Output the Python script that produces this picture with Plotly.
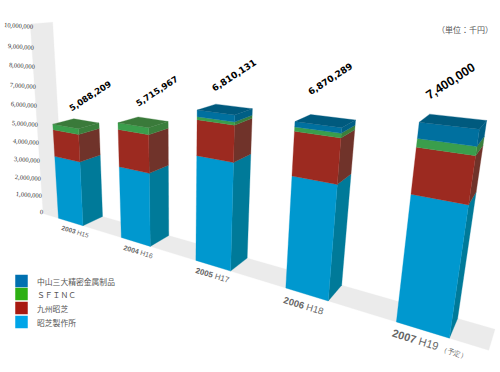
import numpy as np
import plotly.graph_objects as go

years = ["2003", "2004", "2005", "2006", "2007"]
eras = ["H15", "H16", "H17", "H18", "H19"]
total_labels = ["5,088,209", "5,715,967", "6,810,131", "6,870,289", "7,400,000"]
tohshiba = [3400000, 3600000, 4850000, 4750000, 4900000]
kyushu = [1400000, 1800000, 1550000, 1750000, 1650000]
sfinc = [288209, 315967, 130000, 170000, 300000]
nakayama = [0, 0, 280131, 200289, 550000]
axis_ticks = [0, 1000000, 2000000, 3000000, 4000000, 5000000,
              6000000, 7000000, 8000000, 9000000, 10000000]
series_names = ["昭芝製作所", "九州昭芝", "ＳＦＩＮＣ", "中山三大精密金属制品"]

# camera of the pseudo-3D picture: world (slot, depth, value in millions) -> pixels
CAM = np.array([[53.30543, 22.86719, -1.57939, 58.45004],
                [0.60667, -0.6557, -19.57681, 218.2364],
                [-0.07864, 0.03818, -0.00882, 1.0]])
BAR_W = 0.41
WALL_X = -0.27
FLOOR_END = 4.69


def pr(x, d, v):
    h = CAM @ np.array([x, d, v / 1e6, 1.0])
    return h[0] / h[2], h[1] / h[2]


fig = go.Figure()


def poly(points, color):
    pts = [pr(*p) for p in points]
    pts.append(pts[0])
    fig.add_trace(go.Scatter(x=[p[0] for p in pts], y=[p[1] for p in pts], mode="lines",
                             fill="toself", fillcolor=color, line=dict(color=color, width=0.3),
                             hoverinfo="skip", showlegend=False))


WALL = "#ebebeb"
top_val = axis_ticks[-1]
poly([(WALL_X, 0, 0), (WALL_X, 1, 0), (WALL_X, 1, top_val), (WALL_X, 0, top_val)], WALL)
poly([(WALL_X, 0, 0), (FLOOR_END, 0, 0), (FLOOR_END, 1, 0), (WALL_X, 1, 0)], WALL)

styles = [("#0098cf", "#007a99", "#007a99"),
          ("#9c2a20", "#70332a", "#70332a"),
          ("#3a9e4c", "#3a7f3c", "#3a7a3a"),
          ("#00709f", "#005f85", "#005a7e")]
stacks = [tohshiba, kyushu, sfinc, nakayama]

for i in range(len(years)):
    base = 0
    x0, x1 = i, i + BAR_W
    for stack, (front, side, top) in zip(stacks, styles):
        v = stack[i]
        if v <= 0:
            continue
        tip = base + v
        poly([(x1, 0, base), (x1, 1, base), (x1, 1, tip), (x1, 0, tip)], side)
        poly([(x0, 0, base), (x1, 0, base), (x1, 0, tip), (x0, 0, tip)], front)
        base = tip
        last_top = top
    poly([(x0, 0, base), (x1, 0, base), (x1, 1, base), (x0, 1, base)], last_top)

ann = []


def text(x, y, s, size, color="#444444", family="Liberation Sans", angle=0, anchor="center"):
    ann.append(dict(x=x, y=y, xref="x", yref="y", text=s, showarrow=False, textangle=angle,
                    xanchor=anchor, yanchor="middle", borderpad=0,
                    font=dict(size=size, color=color, family=family)))


for t in axis_ticks:
    px, py = pr(WALL_X, 0, t)
    z = t / 1e6
    text(px + 1 + 0.3 * z, py - 2 + 0.4 * z, f"{t:,}", 6.5, "#333333",
         "Liberation Sans Narrow", 4, "right")

tot_dx = [14, 14, 10, 5, -2]
tot_dy = [-28, -31, -34, -42, -40]
tot_size = [8.5, 8.5, 9, 9, 12.5]
tot_font = ["DejaVu Sans", "DejaVu Sans", "DejaVu Sans", "DejaVu Sans", "Liberation Sans"]
cat_dx = [5, 2, 0, -3, 8]
cat_dy = [10, 10, 10, 11, 14]
cat_size = [6.5, 7, 8, 9.5, 11]
for i, lab in enumerate(total_labels):
    tip = tohshiba[i] + kyushu[i] + sfinc[i] + nakayama[i]
    px, py = pr(i + BAR_W / 2, 0.5, tip)
    text(px + tot_dx[i], py + tot_dy[i], f"<b>{lab}</b>", tot_size[i], "#000000", tot_font[i], -33)
    px, py = pr(i + BAR_W / 2, 0, 0)
    s = f"<b>{years[i]}</b> {eras[i]}"
    if i == 4:
        s += ' <span style="font-size:7px">（予定）</span>'
    text(px + cat_dx[i], py + cat_dy[i], s, cat_size[i], "#666666", "Liberation Sans", 17)

text(465, 29, "（単位：千円）", 8, "#555555", "Noto Sans CJK JP")

legend_colors = ["#00a5e8", "#a81a10", "#2db013", "#0070b0"]
legend_y = [322, 308, 294, 281]
fig.add_trace(go.Scatter(x=[21.5] * 4, y=legend_y, mode="markers",
                         marker=dict(symbol="square", size=12.5, color=legend_colors),
                         hoverinfo="skip", showlegend=False))
for name, ly in zip(series_names, legend_y):
    text(35.5, ly, name, 7.8, "#555555", "Noto Sans CJK JP", 0, "left")

fig.update_layout(width=500, height=372, margin=dict(l=0, r=0, t=0, b=0),
                  paper_bgcolor="white", plot_bgcolor="white", annotations=ann,
                  xaxis=dict(range=[0, 500], visible=False, fixedrange=True),
                  yaxis=dict(range=[372, 0], visible=False, fixedrange=True))
fig.write_html("out.html", config=dict(displayModeBar=False),
               post_script="document.body.style.margin='0';document.body.style.overflow='hidden';")
